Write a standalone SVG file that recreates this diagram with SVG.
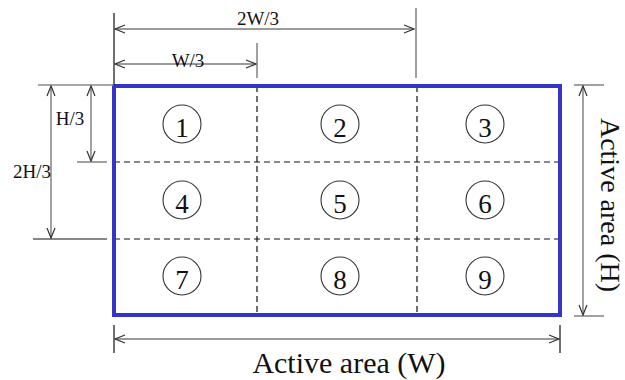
<svg xmlns="http://www.w3.org/2000/svg" width="625" height="380" viewBox="0 0 625 380">
<style>
.dim{stroke:#7a7a7a;stroke-width:1.4;fill:none}
.ext{stroke:#8a8a8a;stroke-width:1.6;fill:none}
.extk{stroke:#111;stroke-width:1.2;fill:none}
.dash{stroke:#111;stroke-width:1.2;stroke-dasharray:6,4;fill:none}
.cell circle{fill:none;stroke:#333;stroke-width:1.1}
.num{font-family:"Liberation Serif","Times New Roman",serif;font-size:27px;fill:#111;text-anchor:middle}
.lbl{font-family:"Liberation Serif","Times New Roman",serif;font-size:19px;fill:#111;text-anchor:middle}
.big{font-family:"Liberation Serif","Times New Roman",serif;font-size:30px;fill:#111;text-anchor:middle}
</style>
<defs>
<marker id="ah" markerUnits="userSpaceOnUse" markerWidth="12" markerHeight="10" refX="11" refY="5" orient="auto-start-reverse">
<path d="M1,1 L11,5 L1,9" fill="none" stroke="#333" stroke-width="1.2"/>
</marker>
</defs>
<rect width="625" height="380" fill="#fff"/>
<g id="grid">
<line class="dash" x1="257" y1="86" x2="257" y2="315"/>
<line class="dash" x1="417" y1="86" x2="417" y2="315"/>
<line class="dash" x1="114" y1="162" x2="560" y2="162"/>
<line class="dash" x1="114" y1="239" x2="560" y2="239"/>
<rect x="114" y="86" width="446" height="229" fill="none" stroke="#3434c8" stroke-width="4"/>
</g>
<g id="cell1" class="cell"><circle cx="182" cy="124" r="19"/><text class="num" x="182" y="137">1</text></g>
<g id="cell2" class="cell"><circle cx="340" cy="124" r="19"/><text class="num" x="340" y="137">2</text></g>
<g id="cell3" class="cell"><circle cx="485" cy="124" r="19"/><text class="num" x="485" y="137">3</text></g>
<g id="cell4" class="cell"><circle cx="182" cy="200" r="19"/><text class="num" x="182" y="213">4</text></g>
<g id="cell5" class="cell"><circle cx="340" cy="200" r="19"/><text class="num" x="340" y="213">5</text></g>
<g id="cell6" class="cell"><circle cx="485" cy="200" r="19"/><text class="num" x="485" y="213">6</text></g>
<g id="cell7" class="cell"><circle cx="182" cy="276" r="19"/><text class="num" x="182" y="289">7</text></g>
<g id="cell8" class="cell"><circle cx="340" cy="276" r="19"/><text class="num" x="340" y="289">8</text></g>
<g id="cell9" class="cell"><circle cx="485" cy="276" r="19"/><text class="num" x="485" y="289">9</text></g>
<g id="connectors">
<line class="extk" x1="114" y1="13" x2="114" y2="86"/>
<line class="ext" x1="257" y1="43" x2="257" y2="78"/>
<line class="ext" x1="416" y1="8" x2="416" y2="78"/>
<line class="ext" x1="38" y1="85" x2="114" y2="85"/>
<line class="ext" x1="77" y1="162" x2="107" y2="162"/>
<line class="extk" x1="33" y1="239" x2="107" y2="239"/>
<line class="extk" x1="114" y1="325" x2="114" y2="353"/>
<line class="extk" x1="560" y1="325" x2="560" y2="353"/>
<line class="ext" x1="574" y1="85" x2="604" y2="85"/>
<line class="ext" x1="574" y1="316" x2="604" y2="316"/>
<line class="dim" x1="115" y1="29" x2="414" y2="29" marker-start="url(#ah)" marker-end="url(#ah)"/>
<line class="dim" x1="115" y1="64" x2="256" y2="64" marker-start="url(#ah)" marker-end="url(#ah)"/>
<line class="dim" x1="91" y1="86" x2="91" y2="161" marker-start="url(#ah)" marker-end="url(#ah)"/>
<line class="dim" x1="51" y1="86" x2="51" y2="238" marker-start="url(#ah)" marker-end="url(#ah)"/>
<line class="dim" x1="115" y1="339" x2="559" y2="339" stroke-width="2" marker-start="url(#ah)" marker-end="url(#ah)"/>
<line class="dim" x1="583" y1="86" x2="583" y2="315" marker-start="url(#ah)" marker-end="url(#ah)"/>
</g>
<g id="labels">
<text class="lbl" x="258" y="25">2W/3</text>
<text class="lbl" x="188" y="67">W/3</text>
<text class="lbl" x="70" y="125">H/3</text>
<text class="lbl" x="32" y="178">2H/3</text>
<text class="big" x="349" y="373">Active area (W)</text>
<text class="big" transform="translate(601,205) rotate(90)" x="0" y="0" style="font-size:28px">Active area (H)</text>
</g>
</svg>
